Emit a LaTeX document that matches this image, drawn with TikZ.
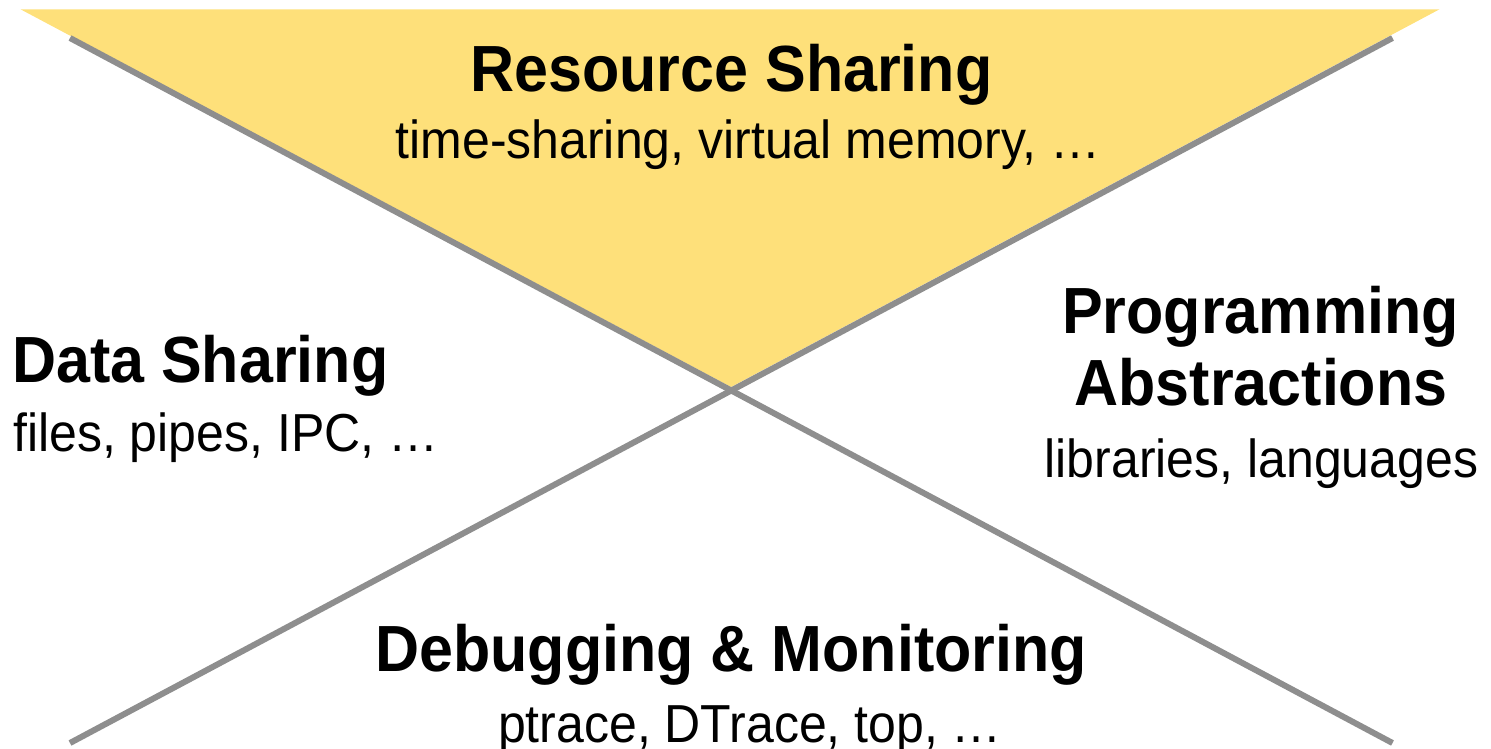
\documentclass[tikz,border=0pt]{standalone}
\usepackage{fontspec}
\setmainfont{Liberation Sans}
\definecolor{tri}{RGB}{254,224,122}
\definecolor{xline}{RGB}{142,142,142}
\newcommand{\vstretch}[1]{\scalebox{1}[1.07]{#1}}
\tikzset{
  head/.style={font=\bfseries\fontsize{61}{61}\selectfont, inner sep=0pt, anchor=base},
  sub/.style={font=\fontsize{50}{50}\selectfont, inner sep=0pt, anchor=base},
  cross/.style={draw=xline, line width=6pt}
}
\begin{document}
\begin{tikzpicture}[x=1pt,y=-1pt]
\useasboundingbox (0,0) rectangle (1491,749);
\coordinate (tl) at (20.5,9.3);
\coordinate (tr) at (1439.5,9.3);
\coordinate (apex) at (731,387);
\fill[tri] (tl) -- (tr) -- (apex) -- cycle;
\coordinate (a1) at (70,38);
\coordinate (a2) at (1392.5,743);
\coordinate (b1) at (1392.5,38);
\coordinate (b2) at (70,743);
\draw[cross] (a1) -- (a2);
\draw[cross] (b1) -- (b2);
\node[head] (rs) at (731.5,92) {\vstretch{Resource Sharing}};
\node[sub] (rssub) at (748,159) {\vstretch{time-sharing, virtual memory, …}};
\node[head, anchor=base west] (ds) at (12,382) {\vstretch{Data Sharing}};
\node[sub, anchor=base west] (dssub) at (13,451) {\vstretch{files, pipes, IPC, …}};
\node[head] (pa1) at (1260.5,333) {\vstretch{Programming}};
\node[head] (pa2) at (1261,405) {\vstretch{Abstractions}};
\node[sub] (pasub) at (1261.5,477) {\vstretch{libraries, languages}};
\node[head] (dm) at (731,671) {\vstretch{Debugging \& Monitoring}};
\node[sub] (dmsub) at (750,742) {\vstretch{ptrace, DTrace, top, …}};
\end{tikzpicture}
\end{document}
